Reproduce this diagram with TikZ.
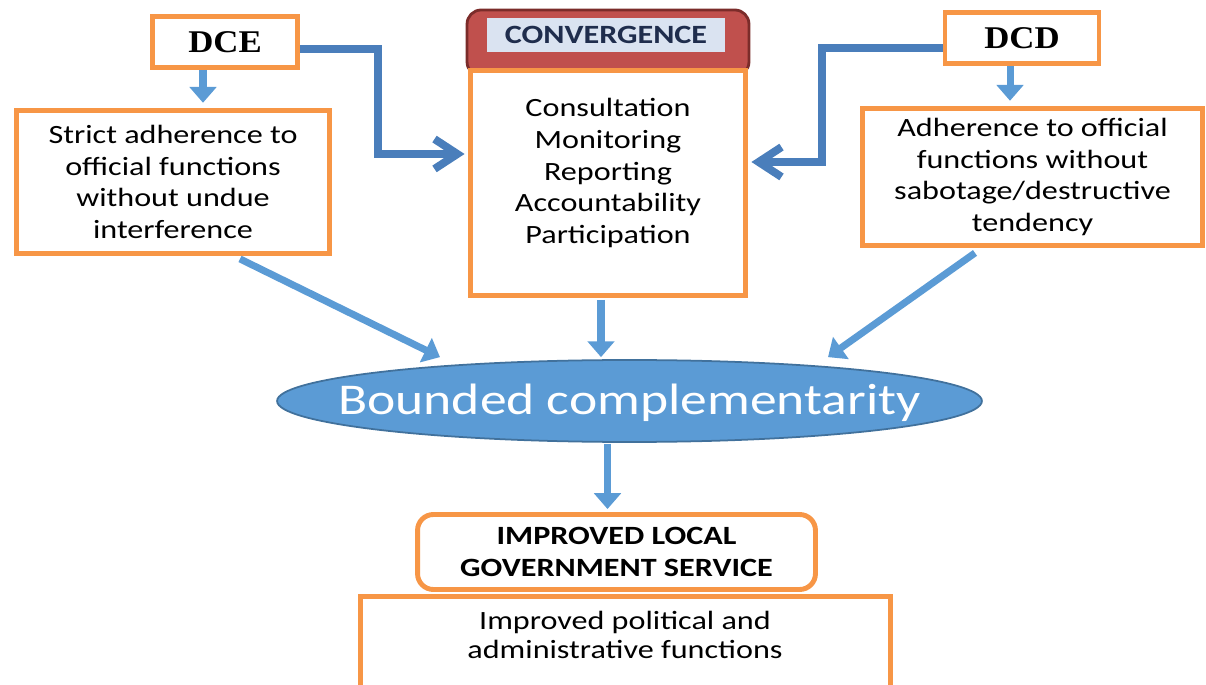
\documentclass[tikz,border=0pt]{standalone}
\usepackage{fontspec}
\setmainfont[FakeStretch=1.22]{Carlito}
\newfontfamily\serifhead[FakeStretch=1.1]{Liberation Serif}
\usetikzlibrary{shapes.geometric, arrows.meta, positioning, calc}
\definecolor{boxorange}{HTML}{F79646}
\definecolor{flowblue}{HTML}{5B9BD5}
\definecolor{linkblue}{HTML}{4A7EBB}
\definecolor{ovalline}{HTML}{41719C}
\definecolor{headred}{HTML}{C0504D}
\definecolor{headline}{HTML}{7B2C2A}
\definecolor{headfill}{HTML}{DAE3F1}
\definecolor{headtext}{HTML}{1F2D4D}

\begin{document}
\begin{tikzpicture}[
    x=0.02cm, y=-0.02cm,
    actor/.style={draw=boxorange, line width=2.8pt, fill=white,
                  minimum width=2.9cm, minimum height=1.02cm,
                  font=\serifhead\bfseries\fontsize{18}{20}\selectfont},
    duty/.style={draw=boxorange, line width=2.8pt, fill=white, align=center,
                 font=\fontsize{15}{18}\selectfont},
    flow/.style={-{Triangle[width=15pt, length=9pt]}, flowblue, line width=4pt},
    link/.style={-{Straight Barb[width=17pt, length=13pt]}, linkblue, line width=4.5pt},
]
    \useasboundingbox (0,0) rectangle (1206,685);
    \clip (0,0) rectangle (1206,685);

    % Actors
    \node[actor] (dce) at (225,42) {DCE};
    \node[actor, minimum width=3.08cm] (dcd) at (1022,38) {DCD};

    % Duties
    \node[duty, minimum width=6.26cm, minimum height=2.86cm] (strict) at (173,182)
        {Strict adherence to\\official functions\\without undue\\interference};
    \node[duty, minimum width=6.8cm, minimum height=2.74cm] (adhere) at (1032.5,177)
        {Adherence to official\\functions without\\sabotage/destructive\\tendency};

    % Convergence
    \node[draw=headline, line width=1.6pt, fill=headred, rounded corners=8pt,
          minimum width=5.64cm, minimum height=1.32cm] (conv) at (608,43) {};
    \node[fill=headfill, minimum width=4.76cm, minimum height=0.68cm, text=headtext,
          font=\bfseries\fontsize{15}{17}\selectfont] (convtitle) at (606,35) {CONVERGENCE};
    \node[duty, minimum width=5.5cm, minimum height=4.5cm] (core) at (608,183) {};
    \node[align=center, font=\fontsize{15}{18}\selectfont] (corelist) at (608,173)
        {Consultation\\Monitoring\\Reporting\\Accountability\\Participation};

    % Bounded complementarity
    \node[ellipse, draw=ovalline, line width=1pt, fill=flowblue, inner sep=0pt,
          minimum width=14.1cm, minimum height=1.64cm] (bounded) at (629.5,401) {};
    \node[text=white, font=\fontsize{25}{30}\selectfont] (boundedtext) at (629.5,403)
        {Bounded complementarity};

    % Outcome
    \node[draw=boxorange, line width=2.8pt, fill=white, minimum width=10.6cm,
          minimum height=2.1cm] (outcome) at (625.5,649) {};
    \node[align=center, font=\fontsize{15}{16.5}\selectfont] (outcometext) at (625,634.5)
        {Improved political and\\administrative functions};
    \node[draw=boxorange, line width=2.8pt, fill=white, rounded corners=9pt,
          minimum width=7.96cm, minimum height=1.5cm, align=center,
          font=\bfseries\fontsize{15}{18}\selectfont] (service) at (616.5,552)
        {IMPROVED LOCAL\\GOVERNMENT SERVICE};

    % Connections
    \coordinate (dcefoot) at ($(dce.south)+(-22,0)$);
    \coordinate (dcdfoot) at ($(dcd.south)+(-12,0)$);
    \draw[flow, shorten >=3pt] (dcefoot) -- (dcefoot |- strict.north);
    \draw[flow, shorten >=3pt] (dcdfoot) -- (dcdfoot |- adhere.north);
    \draw[link, shorten >=2pt] ($(dce.east)+(0,7)$) -| ($(core.west)+(-90,-29)$) -- ($(core.west)+(0,-29)$);
    \draw[link, shorten >=2pt] ($(dcd.west)+(0,10)$) -| ($(core.east)+(74,-21)$) -- ($(core.east)+(0,-21)$);
    \draw[flow] ($(strict.south)+(67,3)$) -- ($(bounded.north)+(-189.5,-2)$);
    \draw[flow] ($(core.south)+(-7,2)$) -- ($(core.south |- bounded.north)+(-7,-2)$);
    \draw[flow] ($(adhere.south)+(-57.5,5)$) -- ($(bounded.north)+(198.5,-2)$);
    \draw[flow] ($(bounded.south)+(-22,1)$) -- ($(bounded.south |- service.north)+(-22,-3)$);
\end{tikzpicture}
\end{document}
